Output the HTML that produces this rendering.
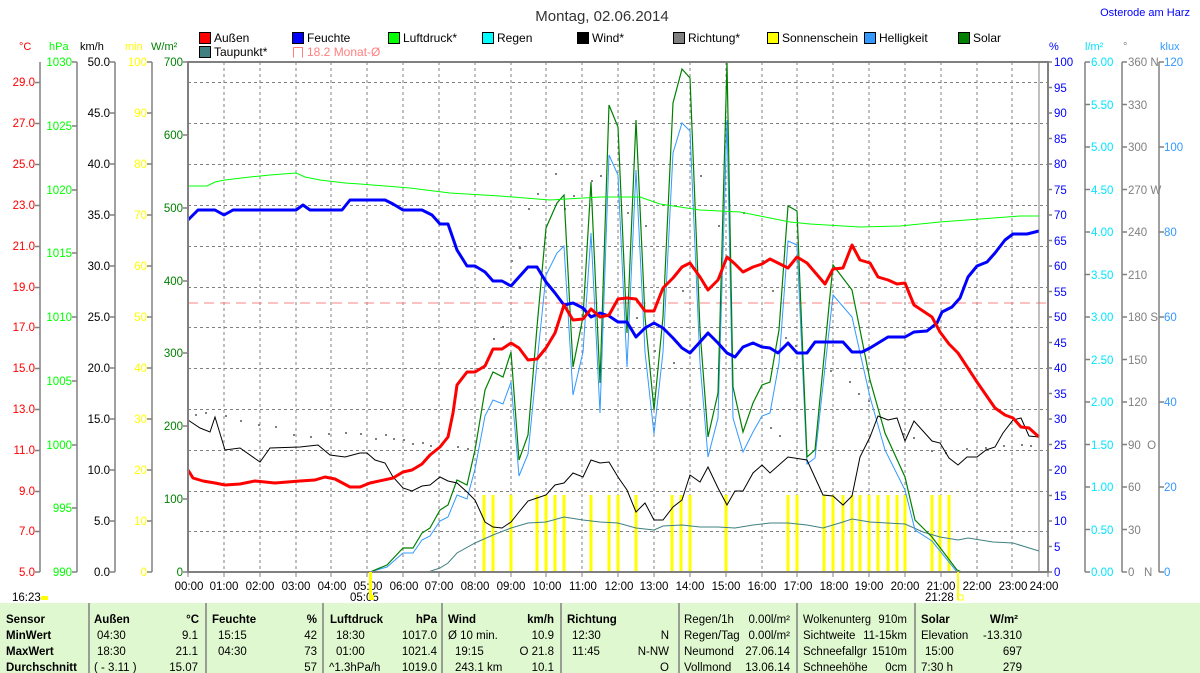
<!DOCTYPE html>
<html><head><meta charset="utf-8"><style>
html,body{margin:0;padding:0;background:#fff;}
svg{display:block;font-family:"Liberation Sans",sans-serif;}
</style></head><body>
<svg width="1200" height="673" viewBox="0 0 1200 673" xmlns="http://www.w3.org/2000/svg">
<rect width="1200" height="673" fill="#fff"/>
<text x="602" y="21" font-size="15" text-anchor="middle" fill="#333">Montag, 02.06.2014</text>
<text x="1190" y="16" font-size="11" text-anchor="end" fill="#0000ff">Osterode am Harz</text>

<!-- legend -->
<g font-size="12" fill="#000">
<rect x="199.5" y="32.5" width="11" height="11" fill="#ff0000" stroke="#000"/><text x="214" y="42">Außen</text>
<rect x="292.5" y="32.5" width="11" height="11" fill="#0000ff" stroke="#000"/><text x="307" y="42">Feuchte</text>
<rect x="388.5" y="32.5" width="11" height="11" fill="#00ff00" stroke="#000"/><text x="403" y="42">Luftdruck*</text>
<rect x="482.5" y="32.5" width="11" height="11" fill="#00ffff" stroke="#000"/><text x="497" y="42">Regen</text>
<rect x="577.5" y="32.5" width="11" height="11" fill="#000" stroke="#000"/><text x="592" y="42">Wind*</text>
<rect x="673.5" y="32.5" width="11" height="11" fill="#808080" stroke="#000"/><text x="688" y="42">Richtung*</text>
<rect x="767.5" y="32.5" width="11" height="11" fill="#ffff00" stroke="#000"/><text x="782" y="42">Sonnenschein</text>
<rect x="864.5" y="32.5" width="11" height="11" fill="#3399ff" stroke="#000"/><text x="879" y="42">Helligkeit</text>
<rect x="958.5" y="32.5" width="11" height="11" fill="#008000" stroke="#000"/><text x="973" y="42">Solar</text>
<rect x="199.5" y="46.5" width="11" height="11" fill="#408080" stroke="#000"/><text x="214" y="56">Taupunkt*</text>
<path d="M293.5 47.5 V57.5 M293.5 47.5 H302.5 V57.5" stroke="#ff8080" fill="none"/><text x="307" y="56" fill="#ff8080">18.2 Monat-Ø</text>
</g>

<!-- axis headers -->
<g font-size="11">
<text x="19" y="50" fill="#ff0000">°C</text>
<text x="49" y="50" fill="#00ff00">hPa</text>
<text x="80" y="50" fill="#000">km/h</text>
<text x="125" y="50" fill="#ffff00">min</text>
<text x="151" y="50" fill="#008000">W/m²</text>
<text x="1049" y="50" fill="#0000ff">%</text>
<text x="1085" y="50" fill="#00e5ff">l/m²</text>
<text x="1123" y="50" fill="#808080">°</text>
<text x="1160" y="50" fill="#3399ff">klux</text>
</g>

<!-- grid -->
<g stroke="#808080" stroke-dasharray="3,3" stroke-width="1">
<path d="M224 62V572M260 62V572M296 62V572M331 62V572M367 62V572M403 62V572M439 62V572M475 62V572M511 62V572M546 62V572M582 62V572M618 62V572M654 62V572M690 62V572M726 62V572M762 62V572M797 62V572M833 62V572M869 62V572M905 62V572M941 62V572M977 62V572M1012 62V572"/>
<path d="M188 82.5H1048M188 123.5H1048M188 164.5H1048M188 205.5H1048M188 246.5H1048M188 287.5H1048M188 327.5H1048M188 368.5H1048M188 409.5H1048M188 450.5H1048M188 491.5H1048M188 531.5H1048"/>
</g>
<line x1="188" y1="303" x2="1048" y2="303" stroke="#ff8080" stroke-dasharray="10,6"/>

<!-- left axes -->
<g stroke="#808080" stroke-width="1.5" fill="none">
<path d="M40 62V572M77 62V572M115 62V572M152 62V572"/>
<path d="M35 82.5h5M35 123.5h5M35 164.5h5M35 205.5h5M35 246.5h5M35 287.5h5M35 327.5h5M35 368.5h5M35 409.5h5M35 450.5h5M35 491.5h5M35 531.5h5M35 572h5"/>
<path d="M72 62h5M72 126h5M72 190h5M72 253h5M72 317h5M72 381h5M72 445h5M72 508h5M72 572h5"/>
<path d="M110 62h5M110 113h5M110 164h5M110 215h5M110 266h5M110 317h5M110 368h5M110 419h5M110 470h5M110 521h5M110 572h5"/>
<path d="M147 62h5M147 113h5M147 164h5M147 215h5M147 266h5M147 317h5M147 368h5M147 419h5M147 470h5M147 521h5M147 572h5"/>
<path d="M183 62h5M183 135h5M183 208h5M183 281h5M183 353h5M183 426h5M183 499h5M183 572h5"/>
<path d="M1085 62V572M1122 62V572M1159 62V572"/>
</g>
<g font-size="11.5" text-anchor="end">
<g fill="#ff0000"><text x="35" y="86">29.0</text><text x="35" y="127">27.0</text><text x="35" y="168">25.0</text><text x="35" y="209">23.0</text><text x="35" y="250">21.0</text><text x="35" y="291">19.0</text><text x="35" y="331">17.0</text><text x="35" y="372">15.0</text><text x="35" y="413">13.0</text><text x="35" y="454">11.0</text><text x="35" y="495">9.0</text><text x="35" y="535">7.0</text><text x="35" y="576">5.0</text></g>
<g fill="#00ff00"><text x="72" y="66">1030</text><text x="72" y="130">1025</text><text x="72" y="194">1020</text><text x="72" y="257">1015</text><text x="72" y="321">1010</text><text x="72" y="385">1005</text><text x="72" y="449">1000</text><text x="72" y="512">995</text><text x="72" y="576">990</text></g>
<g fill="#000"><text x="110" y="66">50.0</text><text x="110" y="117">45.0</text><text x="110" y="168">40.0</text><text x="110" y="219">35.0</text><text x="110" y="270">30.0</text><text x="110" y="321">25.0</text><text x="110" y="372">20.0</text><text x="110" y="423">15.0</text><text x="110" y="474">10.0</text><text x="110" y="525">5.0</text><text x="110" y="576">0.0</text></g>
<g fill="#ffff00"><text x="147" y="66">100</text><text x="147" y="117">90</text><text x="147" y="168">80</text><text x="147" y="219">70</text><text x="147" y="270">60</text><text x="147" y="321">50</text><text x="147" y="372">40</text><text x="147" y="423">30</text><text x="147" y="474">20</text><text x="147" y="525">10</text><text x="147" y="576">0</text></g>
<g fill="#008000"><text x="183" y="66">700</text><text x="183" y="139">600</text><text x="183" y="212">500</text><text x="183" y="285">400</text><text x="183" y="357">300</text><text x="183" y="430">200</text><text x="183" y="503">100</text><text x="183" y="576">0</text></g>
</g>

<!-- right axes -->
<g stroke="#808080" stroke-width="1.5">
<path d="M1048 62h4M1048 87.5h4M1048 113h4M1048 138.5h4M1048 164h4M1048 189.5h4M1048 215h4M1048 240.5h4M1048 266h4M1048 291.5h4M1048 317h4M1048 342.5h4M1048 368h4M1048 393.5h4M1048 419h4M1048 444.5h4M1048 470h4M1048 495.5h4M1048 521h4M1048 546.5h4M1048 572h4"/>
<path d="M1085 62h5M1085 104.5h5M1085 147h5M1085 189.5h5M1085 232h5M1085 274.5h5M1085 317h5M1085 359.5h5M1085 402h5M1085 444.5h5M1085 487h5M1085 529.5h5M1085 572h5"/>
<path d="M1122 62h5M1122 104.5h5M1122 147h5M1122 189.5h5M1122 232h5M1122 274.5h5M1122 317h5M1122 359.5h5M1122 402h5M1122 444.5h5M1122 487h5M1122 529.5h5M1122 572h5"/>
<path d="M1159 62h5M1159 147h5M1159 232h5M1159 317h5M1159 402h5M1159 487h5M1159 572h5"/>
</g>
<g font-size="11.5">
<g fill="#0000ff"><text x="1054" y="66">100</text><text x="1054" y="92">95</text><text x="1054" y="117">90</text><text x="1054" y="143">85</text><text x="1054" y="168">80</text><text x="1054" y="194">75</text><text x="1054" y="219">70</text><text x="1054" y="245">65</text><text x="1054" y="270">60</text><text x="1054" y="296">55</text><text x="1054" y="321">50</text><text x="1054" y="347">45</text><text x="1054" y="372">40</text><text x="1054" y="398">35</text><text x="1054" y="423">30</text><text x="1054" y="449">25</text><text x="1054" y="474">20</text><text x="1054" y="500">15</text><text x="1054" y="525">10</text><text x="1054" y="551">5</text><text x="1054" y="576">0</text></g>
<g fill="#00e5ff"><text x="1091" y="66">6.00</text><text x="1091" y="109">5.50</text><text x="1091" y="151">5.00</text><text x="1091" y="194">4.50</text><text x="1091" y="236">4.00</text><text x="1091" y="279">3.50</text><text x="1091" y="321">3.00</text><text x="1091" y="364">2.50</text><text x="1091" y="406">2.00</text><text x="1091" y="449">1.50</text><text x="1091" y="491">1.00</text><text x="1091" y="534">0.50</text><text x="1091" y="576">0.00</text></g>
<g fill="#808080"><text x="1128" y="66">360 N</text><text x="1128" y="109">330</text><text x="1128" y="151">300</text><text x="1128" y="194">270 W</text><text x="1128" y="236">240</text><text x="1128" y="279">210</text><text x="1128" y="321">180 S</text><text x="1128" y="364">150</text><text x="1128" y="406">120</text><text x="1128" y="449">90 &#160;O</text><text x="1128" y="491">60</text><text x="1128" y="534">30</text><text x="1128" y="576">0 &#160;&#160;N</text></g>
<g fill="#3399ff"><text x="1164" y="66">120</text><text x="1164" y="151">100</text><text x="1164" y="236">80</text><text x="1164" y="321">60</text><text x="1164" y="406">40</text><text x="1164" y="491">20</text><text x="1164" y="576">0</text></g>
</g>

<!-- sunshine bars -->
<g stroke="#ffff00" stroke-width="3">
<path d="M484 495V572M493 495V572M511 495V572M537 495V572M546 495V572M555 495V572M564 495V572M591 495V572M609 495V572M618 495V572M636 495V572M672 495V572M681 495V572M690 495V572M726 495V572M788 495V572M797 495V572M824 495V572M833 495V572M843 495V572M852 495V572M860 495V572M869 495V572M878 495V572M888 495V572M897 495V572M905 495V572M932 495V572M940 495V572M949 495V572"/>
</g>

<!-- gray dots -->
<g fill="#808080">
<rect x="195" y="414" width="2" height="2"/><rect x="205" y="412" width="2" height="2"/><rect x="225" y="415" width="2" height="2"/><rect x="240" y="420" width="2" height="2"/><rect x="258" y="424" width="2" height="2"/><rect x="275" y="426" width="2" height="2"/><rect x="293" y="434" width="2" height="2"/><rect x="310" y="436" width="2" height="2"/><rect x="328" y="433" width="2" height="2"/><rect x="345" y="432" width="2" height="2"/><rect x="360" y="433" width="2" height="2"/><rect x="375" y="438" width="2" height="2"/><rect x="385" y="434" width="2" height="2"/><rect x="393" y="438" width="2" height="2"/><rect x="403" y="439" width="2" height="2"/><rect x="412" y="443" width="2" height="2"/><rect x="422" y="442" width="2" height="2"/><rect x="430" y="445" width="2" height="2"/><rect x="457" y="446" width="2" height="2"/><rect x="467" y="448" width="2" height="2"/><rect x="493" y="338" width="2" height="2"/><rect x="502" y="326" width="2" height="2"/><rect x="511" y="260" width="2" height="2"/><rect x="519" y="247" width="2" height="2"/><rect x="528" y="208" width="2" height="2"/><rect x="537" y="193" width="2" height="2"/><rect x="555" y="173" width="2" height="2"/><rect x="564" y="208" width="2" height="2"/><rect x="573" y="195" width="2" height="2"/><rect x="591" y="180" width="2" height="2"/><rect x="600" y="175" width="2" height="2"/><rect x="627" y="212" width="2" height="2"/><rect x="645" y="225" width="2" height="2"/><rect x="636" y="317" width="2" height="2"/><rect x="654" y="350" width="2" height="2"/><rect x="673" y="362" width="2" height="2"/><rect x="682" y="290" width="2" height="2"/><rect x="700" y="175" width="2" height="2"/><rect x="718" y="225" width="2" height="2"/><rect x="743" y="212" width="2" height="2"/><rect x="762" y="260" width="2" height="2"/><rect x="772" y="290" width="2" height="2"/><rect x="785" y="337" width="2" height="2"/><rect x="795" y="345" width="2" height="2"/><rect x="830" y="370" width="2" height="2"/><rect x="849" y="381" width="2" height="2"/><rect x="858" y="393" width="2" height="2"/><rect x="868" y="400" width="2" height="2"/><rect x="770" y="427" width="2" height="2"/><rect x="779" y="435" width="2" height="2"/><rect x="903" y="433" width="2" height="2"/><rect x="913" y="437" width="2" height="2"/><rect x="931" y="450" width="2" height="2"/><rect x="945" y="452" width="2" height="2"/><rect x="966" y="448" width="2" height="2"/><rect x="985" y="447" width="2" height="2"/><rect x="1003" y="445" width="2" height="2"/><rect x="1021" y="444" width="2" height="2"/><rect x="1030" y="445" width="2" height="2"/>
</g>

<polyline fill="none" stroke="#408080" stroke-width="1" points="370,572 428,572 440,568 448,563 457,553 475,543 493,535 511,528 528,523 546,522 564,517 583,520 600,522 618,523 636,528 654,530 663,526 682,525 700,527 718,527 735,528 753,525 770,523 788,523 807,525 823,528 843,522 852,519 870,522 887,523 905,524 923,532 940,537 958,540 968,538 993,542 1013,543 1039,551"/>
<polyline fill="none" stroke="#3399ff" stroke-width="1" points="360,572 370,572 387,567 403,553 413,553 422,540 430,536 440,521 448,517 457,495 467,499 475,469 485,416 493,400 503,404 511,382 519,476 528,454 537,363 546,275 557,253 564,246 573,395 583,352 591,233 600,413 609,155 618,175 627,367 636,170 645,352 654,434 663,352 673,153 682,123 690,131 700,363 708,457 718,418 727,120 733,418 743,452 753,432 762,416 770,413 779,363 788,241 797,245 807,464 815,458 833,295 852,317 870,397 885,450 905,490 915,530 932,541 957,572 970,572"/>
<polyline fill="none" stroke="#008000" stroke-width="1.2" points="360,572 370,572 387,565 403,548 413,548 422,533 430,528 440,510 448,505 457,480 467,485 475,450 485,390 493,372 503,377 511,352 519,460 528,435 537,327 546,228 557,203 564,195 573,367 583,317 591,182 600,383 609,105 618,127 627,333 636,120 645,317 654,410 663,317 673,103 682,69 690,78 700,330 708,437 718,393 727,63 733,387 743,432 753,403 762,385 770,382 779,330 788,206 797,211 807,457 815,450 833,265 852,290 870,380 885,433 905,477 915,520 932,537 957,570 962,572"/>
<polyline fill="none" stroke="#00ff00" stroke-width="1" points="188,186 207,186 215,182 225,180 250,177 270,175 296,173 305,177 320,180 345,183 360,184 410,188 450,193 500,196 550,200 600,197 640,197 660,204 700,210 740,212 760,216 790,222 810,224 860,227 900,226 940,222 980,219 1020,216 1039,216"/>
<polyline fill="none" stroke="#000" stroke-width="1" points="188,420 200,428 210,432 215,417 225,450 240,448 260,462 270,448 300,447 318,445 330,455 345,457 360,453 367,453 375,460 385,463 393,477 403,488 412,491 422,486 430,485 440,477 448,481 457,483 467,492 475,500 485,522 493,527 502,528 511,522 519,512 528,501 537,498 546,495 555,485 564,483 573,473 583,477 591,460 600,463 609,462 618,477 627,490 636,512 645,503 654,520 663,520 673,507 682,500 690,475 700,482 708,467 718,488 727,505 735,491 743,491 753,473 762,465 770,473 788,457 807,460 823,495 833,496 843,505 852,496 860,457 870,437 878,416 888,420 897,418 905,441 914,421 932,441 940,443 949,458 958,465 967,457 977,457 986,450 995,447 1003,433 1013,420 1021,418 1029,436 1039,437"/>
<polyline fill="none" stroke="#0000ff" stroke-width="3" stroke-linejoin="round" points="188,220 198,210 215,210 224,215 233,210 296,210 303,205 310,210 342,210 350,200 385,200 393,204 403,210 422,210 432,215 440,224 448,224 457,250 467,266 475,266 485,272 493,281 502,281 511,286 519,277 528,267 537,267 546,282 555,293 564,305 573,303 583,308 591,317 600,313 609,316 618,322 627,322 636,337 645,328 654,323 663,328 673,338 682,348 690,353 700,342 708,333 718,343 727,353 735,357 743,347 753,343 762,347 770,348 778,353 788,343 797,353 807,353 815,342 843,342 852,352 862,352 870,348 888,337 905,337 914,332 927,331 937,323 942,312 952,307 960,298 968,277 977,266 987,262 995,253 1005,240 1013,234 1027,234 1039,231"/>
<polyline fill="none" stroke="#ff0000" stroke-width="3" stroke-linejoin="round" points="188,470 193,478 203,481 215,483 225,485 240,484 255,481 275,483 300,481 315,480 325,477 335,479 350,487 360,487 370,483 393,478 403,472 412,470 422,464 430,455 440,447 448,437 453,413 457,385 467,372 475,372 485,366 493,349 502,349 511,343 519,348 528,360 537,359 546,348 555,333 564,305 573,320 583,319 591,309 600,317 609,315 618,299 627,298 636,299 645,311 654,311 663,288 673,278 682,267 690,263 700,277 708,290 718,280 727,257 735,264 743,272 753,267 762,264 770,259 788,268 797,257 807,263 825,284 833,269 843,268 852,245 860,260 870,263 878,277 888,280 897,284 905,283 914,305 932,317 940,332 949,344 958,353 977,382 995,408 1005,415 1013,418 1021,427 1029,428 1039,437"/>

<line x1="1039" y1="62" x2="1039" y2="572" stroke="#808080" stroke-width="1"/>
<rect x="188" y="62" width="860" height="510" fill="none" stroke="#808080" stroke-width="2"/>

<g stroke="#808080"><path d="M188 572v5M224 572v5M260 572v5M296 572v5M331 572v5M367 572v5M403 572v5M439 572v5M475 572v5M511 572v5M546 572v5M582 572v5M618 572v5M654 572v5M690 572v5M726 572v5M762 572v5M797 572v5M833 572v5M869 572v5M905 572v5M941 572v5M977 572v5M1012 572v5M1048 572v5"/></g>
<g font-size="11.5" text-anchor="middle" fill="#000">
<text x="189" y="590">00:00</text><text x="224" y="590">01:00</text><text x="260" y="590">02:00</text><text x="296" y="590">03:00</text><text x="332" y="590">04:00</text><text x="368" y="590">05:00</text><text x="404" y="590">06:00</text><text x="439" y="590">07:00</text><text x="475" y="590">08:00</text><text x="511" y="590">09:00</text><text x="547" y="590">10:00</text><text x="583" y="590">11:00</text><text x="619" y="590">12:00</text><text x="654" y="590">13:00</text><text x="690" y="590">14:00</text><text x="726" y="590">15:00</text><text x="762" y="590">16:00</text><text x="798" y="590">17:00</text><text x="834" y="590">18:00</text><text x="869" y="590">19:00</text><text x="905" y="590">20:00</text><text x="941" y="590">21:00</text><text x="977" y="590">22:00</text><text x="1013" y="590">23:00</text><text x="1044" y="590">24:00</text>
<text x="350" y="601" text-anchor="start">05:05</text><text x="925" y="601" text-anchor="start">21:28</text>
<text x="12" y="601" text-anchor="start">16:23</text>
</g>
<rect x="369" y="572" width="3" height="28" fill="#ffff00"/>
<rect x="369" y="595" width="5" height="5" fill="#ffff00"/>
<rect x="957" y="572" width="2" height="28" fill="#ffff00"/>
<rect x="958" y="595" width="5" height="5" fill="none" stroke="#ffff00"/>
<rect x="41" y="596" width="7" height="4" fill="#ffff00"/>

<!-- table -->
<rect x="0" y="603" width="1200" height="70" fill="#e0f8d0"/>
<g stroke="#808080" stroke-width="1.5">
<path d="M89 603V673M206 603V673M323 603V673M442 603V673M561 603V673M679 603V673M797 603V673M915 603V673"/>
</g>
<g font-size="11.5" fill="#000">
<g font-weight="bold"><text x="6" y="623">Sensor</text><text x="6" y="639">MinWert</text><text x="6" y="655">MaxWert</text><text x="6" y="671">Durchschnitt</text>
<text x="94" y="623">Außen</text><text x="212" y="623">Feuchte</text><text x="330" y="623">Luftdruck</text><text x="448" y="623">Wind</text><text x="567" y="623">Richtung</text><text x="921" y="623">Solar</text></g>
<g font-weight="bold" text-anchor="end"><text x="199" y="623">°C</text><text x="317" y="623">%</text><text x="437" y="623">hPa</text><text x="554" y="623">km/h</text><text x="1018" y="623">W/m²</text></g>
<text x="97" y="639">04:30</text><text x="97" y="655">18:30</text><text x="94" y="671">( - 3.11 )</text>
<g text-anchor="end"><text x="198" y="639">9.1</text><text x="198" y="655">21.1</text><text x="198" y="671">15.07</text>
<text x="317" y="639">42</text><text x="317" y="655">73</text><text x="317" y="671">57</text>
<text x="437" y="639">1017.0</text><text x="437" y="655">1021.4</text><text x="437" y="671">1019.0</text>
<text x="554" y="639">10.9</text><text x="554" y="655">O 21.8</text><text x="554" y="671">10.1</text>
<text x="669" y="639">N</text><text x="669" y="655">N-NW</text><text x="669" y="671">O</text>
<text x="790" y="623">0.00l/m²</text><text x="790" y="639">0.00l/m²</text><text x="790" y="655">27.06.14</text><text x="790" y="671">13.06.14</text>
<text x="907" y="623">910m</text><text x="907" y="639">11-15km</text><text x="907" y="655">1510m</text><text x="907" y="671">0cm</text>
<text x="1022" y="639">-13.310</text><text x="1022" y="655">697</text><text x="1022" y="671">279</text></g>
<text x="218" y="639">15:15</text><text x="218" y="655">04:30</text>
<text x="336" y="639">18:30</text><text x="336" y="655">01:00</text><text x="329" y="671">^1.3hPa/h</text>
<text x="448" y="639">Ø 10 min.</text><text x="455" y="655">19:15</text><text x="455" y="671">243.1 km</text>
<text x="572" y="639">12:30</text><text x="572" y="655">11:45</text>
<g textLength="0"><text x="684" y="623">Regen/1h</text><text x="684" y="639">Regen/Tag</text><text x="684" y="655">Neumond</text><text x="684" y="671">Vollmond</text></g>
<text x="803" y="623" textLength="68" lengthAdjust="spacingAndGlyphs">Wolkenunterg</text><text x="803" y="639">Sichtweite</text><text x="803" y="655" textLength="64" lengthAdjust="spacingAndGlyphs">Schneefallgr</text><text x="803" y="671">Schneehöhe</text>
<text x="921" y="639">Elevation</text><text x="925" y="655">15:00</text><text x="921" y="671">7:30 h</text>
</g>
</svg>
</body></html>
